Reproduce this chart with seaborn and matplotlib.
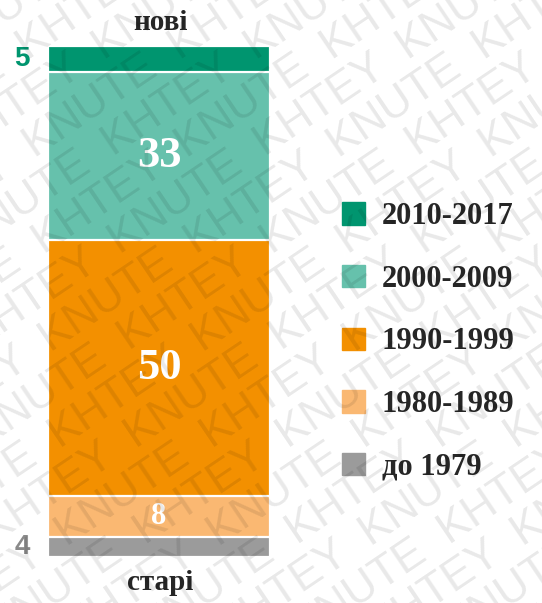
import numpy as np
import matplotlib
matplotlib.use("Agg")
import matplotlib.pyplot as plt
from matplotlib.patches import Patch
import seaborn as sns

# ------------------------------------------------------------------
# Data (share of vehicles by year of manufacture, %)
# ------------------------------------------------------------------
periods = ["до 1979", "1980-1989", "1990-1999", "2000-2009", "2010-2017"]
shares = [4, 8, 50, 33, 5]
colors = ["#9B9B9B", "#FAB872", "#F39000", "#66C1AC", "#00956F"]
inside = [False, True, True, True, False]
outside_colors = {0: "#8A8A8A", 4: "#00956F"}

W, H = 542, 603
DPI = 100

sns.set_theme(style="white")
plt.rcParams["font.family"] = ["Liberation Serif", "DejaVu Serif"]

fig = plt.figure(figsize=(W / DPI, H / DPI), dpi=DPI)
fig.patch.set_facecolor("white")
ax = fig.add_axes([48 / W, (H - 557) / H, 222 / W, 511 / H])

# stacked bar: draw cumulative totals from the tallest down
cum = np.cumsum(shares)
for i in range(len(shares) - 1, -1, -1):
    sns.barplot(x=["all"], y=[cum[i]], color=colors[i], width=1.0,
                edgecolor="white", linewidth=1.6, saturation=1, ax=ax)

ax.set_xlim(-0.5, 0.5)
ax.set_ylim(0, cum[-1])
ax.set_axis_off()

for i, v in enumerate(shares):
    mid = cum[i] - v / 2
    if inside[i]:
        fs = 32 if v >= 20 else 22
        ax.text(0, mid, str(v), ha="center", va="center", color="white",
                fontsize=fs, fontweight="bold")
    else:
        ax.text(-0.617, mid, str(v), ha="center", va="center",
                color=outside_colors[i], fontsize=20, fontweight="bold",
                family=["Liberation Sans Narrow", "Liberation Sans", "DejaVu Sans"])

fig.text(160 / W, 1 - 22 / H, "нові", ha="center", va="center",
         fontsize=21, fontweight="bold")
fig.text(160 / W, 1 - 583 / H, "старі", ha="center", va="center",
         fontsize=21, fontweight="bold")

handles = [Patch(facecolor=colors[i], edgecolor=colors[i], label=periods[i])
           for i in range(len(periods) - 1, -1, -1)]
fig.legend(handles=handles, loc="upper left",
           bbox_to_anchor=(330 / W, 1 - 190 / H), frameon=False,
           prop={"family": "Liberation Serif", "weight": "bold", "size": 22},
           handlelength=0.75, handleheight=0.75, handletextpad=0.55,
           labelspacing=1.1, borderaxespad=0)

# watermark
step = 76
for k in range(-16, 10):
    txt = ("KNUTE  KHTEY  " if k % 2 == 0 else "KHTEY  KNUTE  ") * 5
    fig.text(k * step / W, -40 / H, txt, rotation=34, rotation_mode="anchor",
             ha="left", va="baseline", fontsize=32, color="black", alpha=0.09,
             family=["Liberation Sans", "DejaVu Sans"], zorder=10)

fig.savefig("out.png", dpi=DPI, facecolor="white")
